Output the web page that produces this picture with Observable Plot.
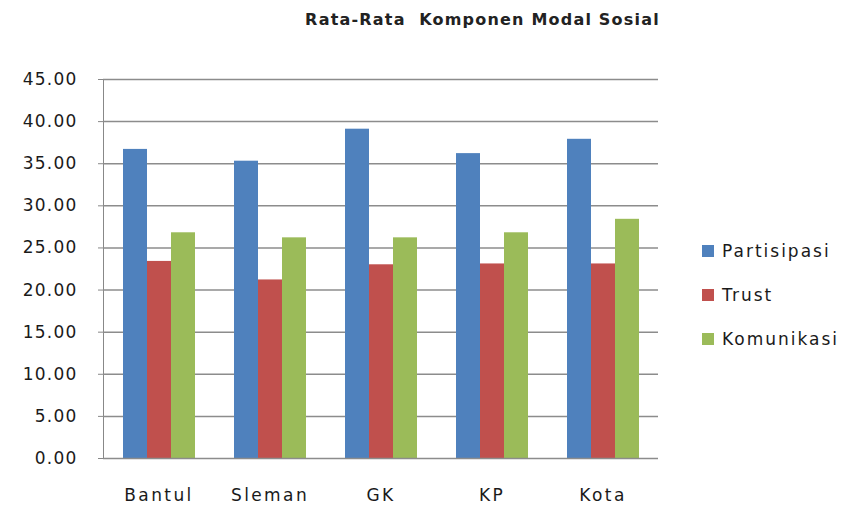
<!DOCTYPE html>
<html>
<head>
<meta charset="utf-8">
<script src="https://cdn.jsdelivr.net/npm/d3@7"></script>
<script src="https://cdn.jsdelivr.net/npm/@observablehq/plot@0.6"></script>
<style>
  body { margin: 0; background: #fff; }
  #wrap { position: relative; width: 849px; height: 506px; font-family: "DejaVu Sans", sans-serif; overflow: hidden; }
  #title { position: absolute; left: 0; top: 10px; width: 965px; text-align: center; font-size: 16px; font-weight: bold; letter-spacing: 1.2px; line-height: 19px; color: #222; white-space: pre; }
  #legend { position: absolute; left: 702px; top: 240px; }
  .row { display: flex; align-items: center; height: 22px; margin-bottom: 22px; font-size: 17px; letter-spacing: 2px; color: #1a1a1a; }
  .sw { width: 12px; height: 12px; margin-right: 8px; }
  #chart svg text { fill: #1a1a1a; }
  #chart svg [aria-label="y-axis tick label"] { letter-spacing: 1.2px; }
  #chart { position: absolute; left: 0; top: 0; }
</style>
</head>
<body>
<div id="wrap">
  <div id="chart"></div>
  <div id="title"></div>
  <div id="legend"></div>
</div>
<script>
const title = "Rata-Rata  Komponen Modal Sosial";
const categories = ["Bantul", "Sleman", "GK", "KP", "Kota"];
const seriesNames = ["Partisipasi", "Trust", "Komunikasi"];
const partisipasi = [36.7, 35.3, 39.1, 36.2, 37.9];
const trust = [23.4, 21.2, 23.0, 23.1, 23.1];
const komunikasi = [26.8, 26.2, 26.2, 26.8, 28.4];
const colors = ["#4F81BD", "#C0504D", "#9BBB59"];
const yTicks = [0, 5, 10, 15, 20, 25, 30, 35, 40, 45];

const seriesValues = [partisipasi, trust, komunikasi];
const data = categories.flatMap((c, i) =>
  seriesNames.map((s, j) => ({ category: c, series: s, value: seriesValues[j][i] }))
);

document.getElementById("title").textContent = title;

const chart = Plot.plot({
  width: 849,
  height: 506,
  marginLeft: 102,
  marginRight: 191,
  marginTop: 79,
  marginBottom: 48,
  style: { fontFamily: "DejaVu Sans, sans-serif", fontSize: "17px", color: "#888", letterSpacing: "2.4px", background: "#fff" },
  fx: { domain: categories, padding: 0, label: null, tickSize: 0, tickPadding: 30, axis: "bottom" },
  x: { domain: seriesNames, axis: null, paddingInner: 0, paddingOuter: 0.75 },
  y: { domain: [0, 45], ticks: yTicks, tickFormat: d => d.toFixed(2), tickSize: 5, tickPadding: 21, label: null, line: true },
  color: { domain: seriesNames, range: colors },
  marks: [
    Plot.ruleY(yTicks.filter(d => d > 0), { stroke: "#8c8c8c", strokeWidth: 1.5 }),
    Plot.barY(data, { fx: "category", x: "series", y: "value", fill: "series" }),
    Plot.ruleY([0], { stroke: "#8c8c8c", strokeWidth: 1.5 })
  ]
});
document.getElementById("chart").appendChild(chart);

const legend = d3.select("#legend");
seriesNames.forEach((s, i) => {
  const row = legend.append("div").attr("class", "row");
  row.append("div").attr("class", "sw").style("background", colors[i]);
  row.append("span").text(s);
});
</script>
</body>
</html>
